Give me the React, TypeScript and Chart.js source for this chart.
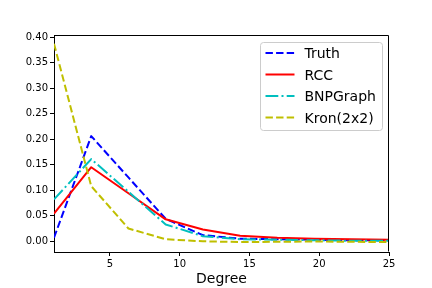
import React, { useEffect, useRef } from "react";
import { Chart, registerables } from "chart.js";

Chart.register(...registerables);

const degrees = [1, 3.667, 6.333, 9, 11.667, 14.333, 17, 19.667, 22.333, 25];
const truth = [0.007, 0.206, 0.125, 0.044, 0.012, 0.005, 0.004, 0.003, 0.002, 0.002];
const rcc = [0.054, 0.145, 0.094, 0.043, 0.023, 0.011, 0.007, 0.005, 0.004, 0.003];
const bnpGraph = [0.082, 0.161, 0.097, 0.033, 0.01, 0.004, 0.003, 0.002, 0.001, 0.001];
const kron = [0.387, 0.108, 0.025, 0.004, 0.0, -0.0015, -0.001, -0.0005, -0.001, -0.0015];

const xTicks = [5, 10, 15, 20, 25];
const yTicks = [0, 0.05, 0.1, 0.15, 0.2, 0.25, 0.3, 0.35, 0.4];
const seriesLabels = ["Truth", "RCC", "BNPGraph", "Kron(2x2)"];

const FONT = "'DejaVu Sans', sans-serif";

const frameAndLegend = {
  id: "frameAndLegend",
  afterDraw(chart: any) {
    const ctx = chart.ctx;
    const a = chart.chartArea;
    ctx.save();
    ctx.strokeStyle = "#000";
    ctx.lineWidth = 1;
    ctx.setLineDash([]);
    const l = Math.round(a.left) + 0.5;
    const t = Math.round(a.top) + 0.5;
    const r = Math.round(a.right) - 0.5;
    const b = Math.round(a.bottom) - 0.5;
    ctx.beginPath();
    ctx.moveTo(l, t);
    ctx.lineTo(r, t);
    ctx.lineTo(r, b);
    ctx.stroke();

    const w = 122;
    const h = 88;
    const x0 = Math.round(a.right) - 7 - w + 0.5;
    const y0 = Math.round(a.top) + 7 + 0.5;
    const rad = 3;
    ctx.beginPath();
    ctx.moveTo(x0 + rad, y0);
    ctx.lineTo(x0 + w - rad, y0);
    ctx.arcTo(x0 + w, y0, x0 + w, y0 + rad, rad);
    ctx.lineTo(x0 + w, y0 + h - rad);
    ctx.arcTo(x0 + w, y0 + h, x0 + w - rad, y0 + h, rad);
    ctx.lineTo(x0 + rad, y0 + h);
    ctx.arcTo(x0, y0 + h, x0, y0 + h - rad, rad);
    ctx.lineTo(x0, y0 + rad);
    ctx.arcTo(x0, y0, x0 + rad, y0, rad);
    ctx.closePath();
    ctx.fillStyle = "rgba(255,255,255,0.8)";
    ctx.fill();
    ctx.strokeStyle = "#cccccc";
    ctx.stroke();

    ctx.font = `14px ${FONT}`;
    ctx.textBaseline = "middle";
    ctx.textAlign = "left";
    chart.data.datasets.forEach((ds: any, i: number) => {
      const y = y0 + 10.5 + i * 21.5;
      ctx.beginPath();
      ctx.setLineDash(ds.borderDash || []);
      ctx.lineDashOffset = 0;
      ctx.strokeStyle = ds.borderColor;
      ctx.lineWidth = ds.borderWidth;
      ctx.lineCap = "butt";
      ctx.moveTo(x0 + 5, y);
      ctx.lineTo(x0 + 34, y);
      ctx.stroke();
      ctx.setLineDash([]);
      ctx.fillStyle = "#000";
      ctx.fillText(ds.label, x0 + 44, y + 1.5);
    });
    ctx.restore();
  },
};

export default function App() {
  const ref = useRef<HTMLCanvasElement | null>(null);

  useEffect(() => {
    if (!ref.current) return;
    const mk = (label: string, data: number[], color: string, dash: number[], order: number) => ({
      label,
      data: degrees.map((x, i) => ({ x, y: data[i] })),
      borderColor: color,
      backgroundColor: color,
      borderWidth: 2,
      borderDash: dash,
      borderJoinStyle: "round" as const,
      pointRadius: 0,
      tension: 0,
      fill: false,
      order,
    });
    const chart = new Chart(ref.current, {
      type: "line",
      data: {
        datasets: [
          mk(seriesLabels[0], truth, "#0000ff", [7.4, 3.2], 4),
          mk(seriesLabels[1], rcc, "#ff0000", [], 3),
          mk(seriesLabels[2], bnpGraph, "#00bfbf", [12.8, 3.2, 2, 3.2], 2),
          mk(seriesLabels[3], kron, "#bfbf00", [7.4, 3.2], 1),
        ],
      },
      options: {
        animation: false,
        responsive: false,
        devicePixelRatio: 1,
        layout: { padding: { top: 35, right: 43, left: 0, bottom: 0 } },
        plugins: { legend: { display: false }, tooltip: { enabled: false } },
        scales: {
          x: {
            type: "linear",
            min: 1,
            max: 25,
            afterBuildTicks: (s: any) => {
              s.ticks = xTicks.map((v) => ({ value: v }));
            },
            afterFit: (s: any) => {
              s.height = 36;
            },
            ticks: {
              font: { family: FONT, size: 10 },
              color: "#000",
              padding: 2,
              maxRotation: 0,
              callback: (v: any) => String(v),
            },
            grid: {
              display: true,
              drawOnChartArea: false,
              drawTicks: true,
              tickLength: 4,
              color: "#000",
            },
            border: { display: true, color: "#000", width: 1 },
            title: {
              display: true,
              text: "Degree",
              font: { family: FONT, size: 14 },
              color: "#000",
              padding: { top: 2, bottom: 0 },
            },
          },
          y: {
            type: "linear",
            min: -0.021,
            max: 0.404,
            afterBuildTicks: (s: any) => {
              s.ticks = yTicks.map((v) => ({ value: v }));
            },
            afterFit: (s: any) => {
              s.width = 54;
            },
            ticks: {
              font: { family: FONT, size: 10 },
              color: "#000",
              padding: 2,
              callback: (v: any) => Number(v).toFixed(2),
            },
            grid: {
              display: true,
              drawOnChartArea: false,
              drawTicks: true,
              tickLength: 4,
              color: "#000",
            },
            border: { display: true, color: "#000", width: 1 },
          },
        },
      },
      plugins: [frameAndLegend],
    });
    return () => chart.destroy();
  }, []);

  return (
    <div style={{ position: "fixed", left: 0, top: 0, width: 432, height: 288, background: "#fff" }}>
      <canvas ref={ref} width={432} height={288} style={{ display: "block", width: 432, height: 288 }} />
    </div>
  );
}
